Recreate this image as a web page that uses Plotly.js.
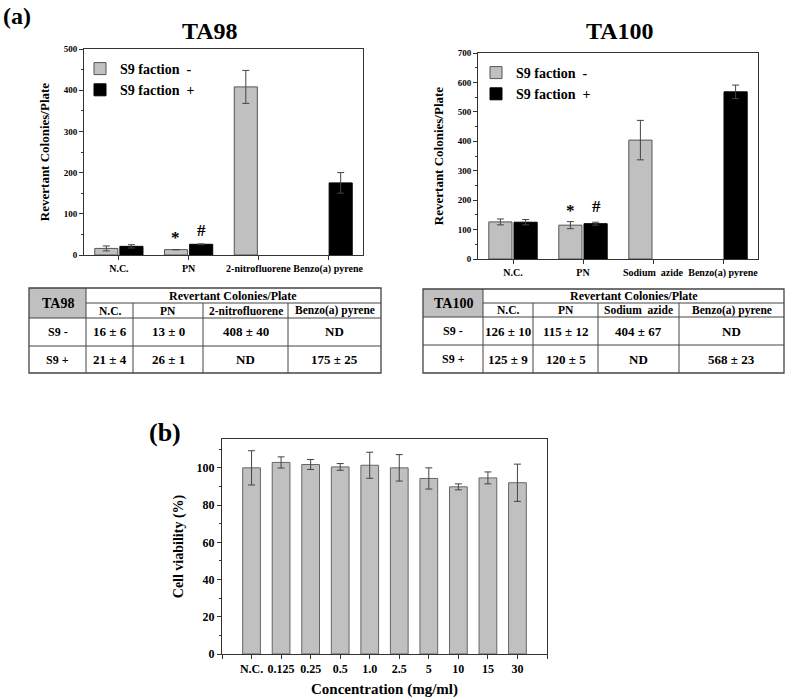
<!DOCTYPE html>
<html><head><meta charset="utf-8">
<script src="https://cdn.plot.ly/plotly-3.0.1.min.js"></script>
<style>html,body{margin:0;padding:0;background:#fff}#chart{width:787px;height:698px}</style>
</head><body><div id="chart"></div>
<script>
// ---------- DATA ----------
const ta98Groups = ['N.C.', 'PN', '2-nitrofluorene', 'Benzo(a) pyrene'];
const ta98Minus = [16, 13, 408, null];
const ta98MinusErr = [6, 0, 40, null];
const ta98Plus = [21, 26, null, 175];
const ta98PlusErr = [4, 1, null, 25];

const ta100Groups = ['N.C.', 'PN', 'Sodium\u00a0\u00a0azide', 'Benzo(a) pyrene'];
const ta100Minus = [126, 115, 404, null];
const ta100MinusErr = [10, 12, 67, null];
const ta100Plus = [125, 120, null, 568];
const ta100PlusErr = [9, 5, null, 23];

const seriesNames = ['S9 faction\u00a0\u00a0-', 'S9 faction\u00a0\u00a0+'];
const rowLabels = ['S9 -', 'S9 +'];
const tableHeader = 'Revertant Colonies/Plate';

const concentrations = ['N.C.', '0.125', '0.25', '0.5', '1.0', '2.5', '5', '10', '15', '30'];
const viability = [100, 102.9, 101.8, 100.5, 101.4, 100, 94.3, 89.8, 94.6, 92];
const viabilityErr = [9.2, 3, 2.7, 1.8, 7, 7.1, 5.7, 1.6, 3.2, 10];

// ---------- HELPERS ----------
const W = 787, H = 698;
const px = x => x / W, py = y => 1 - y / H;
const FONT = 'Liberation Serif, Times New Roman, serif';
const f = (size, color) => ({family: FONT, size: size, color: color || '#000', weight: 'bold'});
const GRAY = '#c0c0c0';

function barTrace(x, y, err, name, color, lineColor, xa, ya, legend, showlegend) {
  return {
    type: 'bar', x: x, y: y, name: name, xaxis: xa, yaxis: ya, legend: legend,
    showlegend: showlegend,
    marker: {color: color, line: {color: lineColor, width: 1}},
    error_y: {type: 'data', array: err, visible: true, color: '#444', thickness: 1, width: 3.5}
  };
}

const traces = [
  barTrace(ta98Groups, ta98Minus, ta98MinusErr, seriesNames[0], GRAY, '#555', 'x', 'y', 'legend', true),
  barTrace(ta98Groups, ta98Plus, ta98PlusErr, seriesNames[1], '#000', '#000', 'x', 'y', 'legend', true),
  barTrace(ta100Groups, ta100Minus, ta100MinusErr, seriesNames[0], GRAY, '#555', 'x2', 'y2', 'legend2', true),
  barTrace(ta100Groups, ta100Plus, ta100PlusErr, seriesNames[1], '#000', '#000', 'x2', 'y2', 'legend2', true)
];
const concIdx = concentrations.map((c, i) => i);
const cellTrace = barTrace(concIdx, viability, viabilityErr, 'Cell viability', GRAY, '#666', 'x3', 'y3', 'legend', false);
cellTrace.width = 0.6;
traces.push(cellTrace);

const axisBase = {
  showline: true, linecolor: '#333', linewidth: 1, mirror: true,
  ticks: 'outside', ticklen: 4, tickcolor: '#333', showgrid: false, zeroline: false,
  fixedrange: true
};

const layout = {
  width: W, height: H, margin: {l: 0, r: 0, t: 0, b: 0},
  paper_bgcolor: '#fff', plot_bgcolor: '#fff',
  font: f(11),
  barmode: 'group', bargap: 0.28, bargroupgap: 0.08,
  xaxis: Object.assign({}, axisBase, {domain: [px(84), px(363)], anchor: 'y', type: 'category',
    range: [-0.5, 3.5], tickfont: f(10), tickangle: 0}),
  yaxis: Object.assign({}, axisBase, {domain: [py(255), py(49)], anchor: 'x', range: [0, 500],
    dtick: 100, tickfont: f(9), minor: {dtick: 50, ticks: 'outside', ticklen: 2, tickcolor: '#333'},
    title: {text: 'Revertant Colonies/Plate', font: f(13), standoff: 11}}),
  xaxis2: Object.assign({}, axisBase, {domain: [px(478), px(758)], anchor: 'y2', type: 'category',
    range: [-0.5, 3.5], tickfont: f(10), tickangle: 0}),
  yaxis2: Object.assign({}, axisBase, {domain: [py(259), py(53)], anchor: 'x2', range: [0, 700],
    dtick: 100, tickfont: f(9), minor: {dtick: 50, ticks: 'outside', ticklen: 2, tickcolor: '#333'},
    title: {text: 'Revertant Colonies/Plate', font: f(13), standoff: 11}}),
  xaxis3: Object.assign({}, axisBase, {domain: [px(222), px(547)], anchor: 'y3', type: 'linear',
    range: [-1, concentrations.length],
    tickvals: [-1].concat(concIdx, [concentrations.length]),
    ticktext: [''].concat(concentrations, ['']), tickfont: f(12), tickangle: 0,
    title: {text: 'Concentration (mg/ml)', font: f(15), standoff: 8}}),
  yaxis3: Object.assign({}, axisBase, {domain: [py(654), py(439)], anchor: 'x3', range: [0, 115.5],
    tickvals: [0, 20, 40, 60, 80, 100], tickfont: f(12),
    minor: {tickvals: [10, 30, 50, 70, 90, 110], ticks: 'outside', ticklen: 2, tickcolor: '#333'},
    title: {text: 'Cell viability (%)', font: f(14), standoff: 9}}),
  legend: {x: px(80), y: py(53), xanchor: 'left', yanchor: 'top', bgcolor: 'rgba(0,0,0,0)',
    font: f(14), tracegroupgap: 0, itemwidth: 30},
  legend2: {x: px(476), y: py(57), xanchor: 'left', yanchor: 'top', bgcolor: 'rgba(0,0,0,0)',
    font: f(14), tracegroupgap: 0, itemwidth: 30},
  shapes: [],
  annotations: []
};

const ann = layout.annotations, shp = layout.shapes;
function label(x, y, text, size) {
  ann.push({xref: 'paper', yref: 'paper', x: px(x), y: py(y), text: text, showarrow: false,
    xanchor: 'center', yanchor: 'middle', font: f(size)});
}
label(17, 16, '(a)', 24);
label(210, 31, 'TA98', 24);
label(620, 31, 'TA100', 24);
label(165, 432, '(b)', 26);

// significance markers
function mark(xa, ya, cat, y, text, xshift, yshift) {
  ann.push({xref: xa, yref: ya, x: cat, y: y, text: text, showarrow: false, xshift: xshift,
    yshift: yshift, yanchor: 'middle', font: f(17)});
}
const p98 = ta98Groups.indexOf('PN'), p100 = ta100Groups.indexOf('PN');
mark('x', 'y', ta98Groups[p98], ta98Minus[p98] + ta98MinusErr[p98], '*', -13, 12);
mark('x', 'y', ta98Groups[p98], ta98Plus[p98] + ta98PlusErr[p98], '#', 13, 13);
mark('x2', 'y2', ta100Groups[p100], ta100Minus[p100] + ta100MinusErr[p100], '*', -13, 11);
mark('x2', 'y2', ta100Groups[p100], ta100Plus[p100] + ta100PlusErr[p100], '#', 13, 16);

// ---------- TABLES ----------
function fmt(v, e) { return v === null ? 'ND' : (v + ' \u00b1 ' + e); }
function drawTable(name, cols, rowsVals, rowsErr, ce, re) {
  const lc = '#444';
  shp.push({type: 'rect', xref: 'paper', yref: 'paper', x0: px(ce[0]), x1: px(ce[1]), y0: py(re[0]), y1: py(re[2]),
    fillcolor: GRAY, line: {width: 0}, layer: 'below'});
  shp.push({type: 'rect', xref: 'paper', yref: 'paper', x0: px(ce[0]), x1: px(ce[5]), y0: py(re[0]), y1: py(re[4]),
    line: {color: lc, width: 1.3}});
  const hl = (y, x0, x1) => shp.push({type: 'line', xref: 'paper', yref: 'paper', x0: px(x0), x1: px(x1), y0: py(y), y1: py(y), line: {color: lc, width: 1}});
  const vl = (x, y0, y1) => shp.push({type: 'line', xref: 'paper', yref: 'paper', x0: px(x), x1: px(x), y0: py(y0), y1: py(y1), line: {color: lc, width: 1}});
  hl(re[1], ce[1], ce[5]);
  hl(re[2], ce[0], ce[5]);
  hl(re[3], ce[0], ce[5]);
  vl(ce[1], re[0], re[4]);
  for (let i = 2; i <= 4; i++) vl(ce[i], re[1], re[4]);
  label((ce[0] + ce[1]) / 2, (re[0] + re[2]) / 2, name, 14);
  label((ce[1] + ce[5]) / 2, (re[0] + re[1]) / 2, tableHeader, 12);
  cols.forEach((c, i) => label((ce[i + 1] + ce[i + 2]) / 2, (re[1] + re[2]) / 2, c, 11.5));
  rowLabels.forEach((r, j) => {
    label((ce[0] + ce[1]) / 2, (re[j + 2] + re[j + 3]) / 2, r, 12);
    rowsVals[j].forEach((v, i) => label((ce[i + 1] + ce[i + 2]) / 2, (re[j + 2] + re[j + 3]) / 2, fmt(v, rowsErr[j][i]), 13));
  });
}
drawTable('TA98', ta98Groups, [ta98Minus, ta98Plus], [ta98MinusErr, ta98PlusErr],
  [29, 86, 133, 203, 288, 381], [288, 303, 318, 346, 373]);
drawTable('TA100', ta100Groups, [ta100Minus, ta100Plus], [ta100MinusErr, ta100PlusErr],
  [423, 483, 533, 598, 679, 784], [289, 303, 317, 345, 373]);

Plotly.newPlot('chart', traces, layout, {staticPlot: true, displayModeBar: false});
</script>
</body></html>
